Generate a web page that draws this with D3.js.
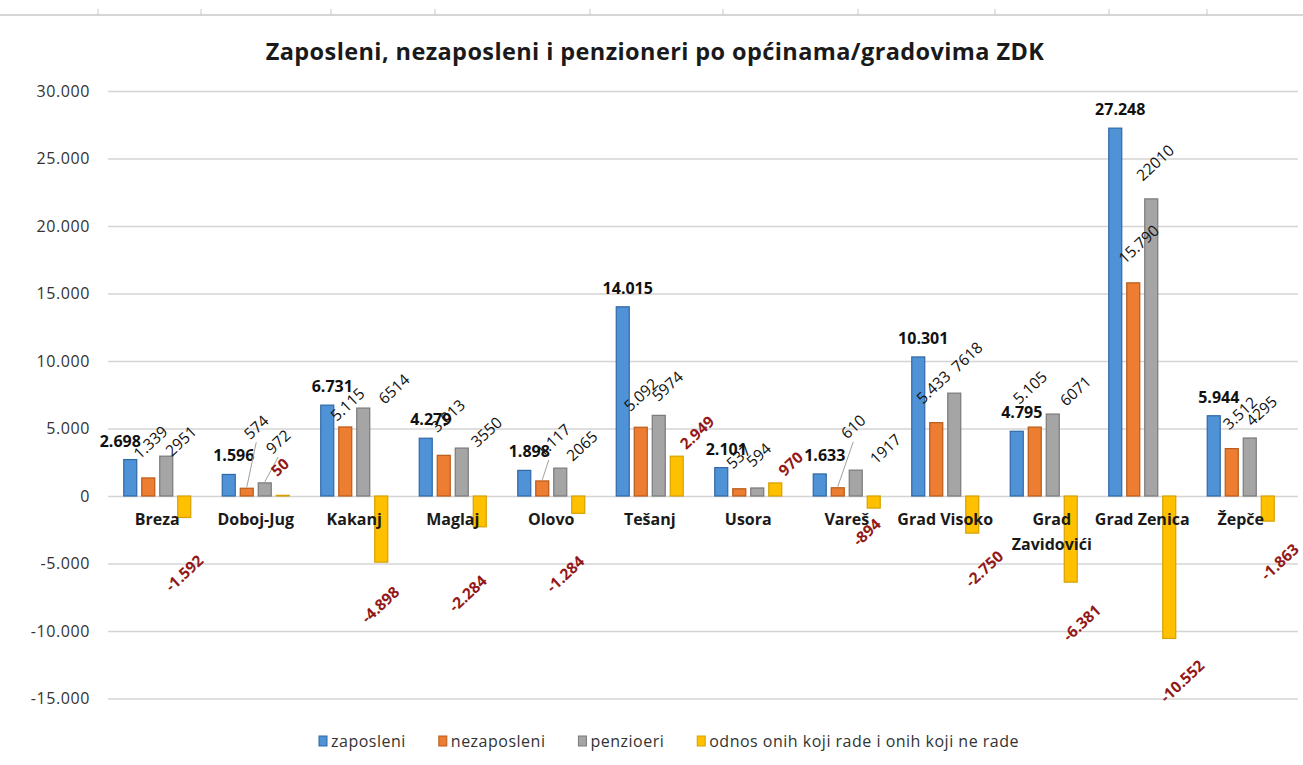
<!DOCTYPE html>
<html>
<head>
<meta charset="utf-8">
<script src="https://cdn.jsdelivr.net/npm/d3@7"></script>
<style>
  body { margin: 0; background: #fff; }
  svg { display: block; }
</style>
</head>
<body>
<div id="chart"></div>
<script>
// Chart data
const categories = ["Breza", "Doboj-Jug", "Kakanj", "Maglaj", "Olovo", "Tešanj",
                    "Usora", "Vareš", "Grad Visoko", "Grad Zavidovići", "Grad Zenica", "Žepče"];
const zaposleni   = [2698, 1596, 6731, 4279, 1898, 14015, 2101, 1633, 10301, 4795, 27248, 5944];
const nezaposleni = [1339, 574, 5115, 3013, 1117, 5092, 537, 610, 5433, 5105, 15790, 3512];
const penzioneri  = [2951, 972, 6514, 3550, 2065, 5974, 594, 1917, 7618, 6071, 22010, 4295];
const odnos       = [-1592, 50, -4898, -2284, -1284, 2949, 970, -894, -2750, -6381, -10552, -1863];
const seriesNames = ["zaposleni", "nezaposleni", "penzioeri", "odnos onih koji rade i onih koji ne rade"];
const yTicks = [-15000, -10000, -5000, 0, 5000, 10000, 15000, 20000, 25000, 30000];
const title = "Zaposleni, nezaposleni i penzioneri po općinama/gradovima ZDK";

const width = 1303, height = 765;
const margin = { top: 91, right: 5, bottom: 66, left: 108 };
const plotRight = width - margin.right;

const fill   = ["#4f92d6", "#ed7d31", "#a5a5a5", "#ffc000"];
const stroke = ["#2f68a6", "#b85b1c", "#7a7a7a", "#d6a100"];
const redLabel = "#931818";
const font = "'Open Sans', 'Liberation Sans', sans-serif";

// number format with "." as thousands separator and a plain hyphen as minus
const loc = d3.formatLocale({ decimal: ",", thousands: ".", grouping: [3], currency: ["", ""], minus: "-" });
const fmt = loc.format(",d");

const allSeries = [zaposleni, nezaposleni, penzioneri, odnos];

const svg = d3.select("#chart").append("svg")
    .attr("width", width)
    .attr("height", height)
    .style("font-family", font);

// the ruler strip from the document the chart was pasted in
svg.append("line")
    .attr("x1", 0).attr("x2", width).attr("y1", 15).attr("y2", 15)
    .attr("stroke", "#c8c8c8").attr("stroke-width", 1.5);
[98, 201, 331, 435, 590, 723, 858, 995, 1109, 1207].forEach(t => {
    svg.append("line").attr("x1", t).attr("x2", t).attr("y1", 9).attr("y2", 15)
        .attr("stroke", "#c8c8c8");
});

// scales
const x = d3.scaleBand().domain(categories).range([margin.left, 1290]);
const groupW = 67;
const xs = d3.scaleBand().domain(d3.range(4)).range([0, groupW]).paddingInner(5 / 18);
const y = d3.scaleLinear().domain([-15000, 30000]).range([698.5, margin.top]);
const groupLeft = c => x(c) + (x.bandwidth() - groupW) / 2;

// title
svg.append("text")
    .attr("x", 655).attr("y", 60)
    .attr("text-anchor", "middle")
    .style("font-size", "23.5px").style("font-weight", "bold")
    .style("letter-spacing", "0.4px")
    .style("fill", "#1a1a1a")
    .text(title);

// gridlines + y labels
const yAxis = svg.append("g").attr("transform", `translate(${margin.left},0)`)
    .call(d3.axisLeft(y).tickValues(yTicks).tickSize(-(plotRight - margin.left))
        .tickFormat(d => d === 0 ? "0" : fmt(d)).tickPadding(18));
yAxis.select(".domain").remove();
yAxis.selectAll(".tick line").attr("stroke", "#d4d4d4").attr("stroke-width", 1.5);
yAxis.selectAll(".tick text").style("font-size", "16px").style("fill", "#333")
    .style("letter-spacing", "0.6px")
    .style("font-family", font);

// bars
categories.forEach((c, ci) => {
    allSeries.forEach((s, si) => {
        const v = s[ci];
        svg.append("rect")
            .attr("x", groupLeft(c) + xs(si))
            .attr("y", y(Math.max(0, v)))
            .attr("width", xs.bandwidth())
            .attr("height", Math.abs(y(v) - y(0)))
            .attr("fill", fill[si])
            .attr("stroke", stroke[si])
            .attr("stroke-width", 1.2);
    });
});

// category labels (under the zero line)
categories.forEach(c => {
    const words = c === "Grad Zavidovići" ? ["Grad", "Zavidovići"] : [c];
    const cx = x(c) + x.bandwidth() / 2 + (words.length > 1 ? 8 : 0);
    const t = svg.append("text")
        .attr("x", cx)
        .attr("y", y(0) + 29)
        .attr("text-anchor", "middle")
        .style("font-size", "16px").style("font-weight", "bold").style("fill", "#1a1a1a");
    words.forEach((w, i) => t.append("tspan")
        .attr("x", cx).attr("dy", i ? 25 : 0).text(w));
});

// label nudges: [dx, dy, leader line]
const rotNudge = {
    "1|Breza": [-2, -18], "2|Breza": [12, 1],
    "1|Doboj-Jug": [10, -48, true], "2|Doboj-Jug": [14, -28, true], "3|Doboj-Jug": [1, -18],
    "1|Kakanj": [-2, -5], "2|Kakanj": [28, -3],
    "1|Maglaj": [0, -22], "2|Maglaj": [22, 0],
    "1|Olovo": [7, -23, true], "2|Olovo": [19, -6],
    "1|Tešanj": [-4, -15], "2|Tešanj": [6, -13], "3|Tešanj": [16, -6],
    "1|Usora": [0, -19], "2|Usora": [2, -20], "3|Usora": [16, -6],
    "1|Vareš": [16, -48, true], "2|Vareš": [27, -5],
    "1|Grad Visoko": [-7, -18], "2|Grad Visoko": [10, -20],
    "1|Grad Zavidovići": [-9, -22], "2|Grad Zavidovići": [20, -7],
    "1|Grad Zenica": [-2, -18], "2|Grad Zenica": [-2, -17],
    "1|Žepče": [4, -18], "2|Žepče": [9, -11]
};
// negative odnos labels: [dx from bar centre, gap below bar]
const negNudge = {
    "Breza": [0, 35], "Kakanj": [-1, 22], "Maglaj": [-12, 46], "Olovo": [-13, 40],
    "Vareš": [-7, 8], "Grad Visoko": [12, 15], "Grad Zavidovići": [11, 20],
    "Grad Zenica": [13, 19], "Žepče": [12, 20]
};
const angle = -43;

categories.forEach((c, ci) => {
    // zaposleni: bold, horizontal
    const bx = groupLeft(c) + xs(0);
    svg.append("text")
        .attr("x", bx + xs.bandwidth() / 2 + (c === "Breza" ? -10 : 5))
        .attr("y", y(zaposleni[ci]) - 13)
        .attr("text-anchor", "middle")
        .style("font-size", "16px").style("font-weight", "bold").style("fill", "#111")
        .text(fmt(zaposleni[ci]));

    // nezaposleni, penzioneri, positive odnos: rotated
    [1, 2, 3].forEach(si => {
        const v = allSeries[si][ci];
        if (v < 0) return;
        const n = rotNudge[si + "|" + c] || [0, -15];
        const left = groupLeft(c) + xs(si);
        const px = left + n[0], py = y(v) + n[1];
        if (n[2]) {
            svg.append("line")
                .attr("x1", left + xs.bandwidth() / 2).attr("y1", y(v) - 1)
                .attr("x2", px + 6).attr("y2", py + 2)
                .attr("stroke", "#a0a0a0").attr("stroke-width", 1);
        }
        svg.append("text")
            .attr("transform", `translate(${px},${py}) rotate(${angle})`)
            .style("font-size", "15.5px")
            .style("font-weight", si === 3 ? "bold" : "normal")
            .style("fill", si === 3 ? redLabel : "#111")
            .text(si === 2 ? String(v) : fmt(v));
    });

    // negative odnos labels under the bar
    const v = odnos[ci];
    if (v < 0) {
        const n = negNudge[c] || [10, 20];
        const cx = groupLeft(c) + xs(3) + xs.bandwidth() / 2 + n[0];
        const t = svg.append("text")
            .attr("text-anchor", "middle")
            .attr("dy", "0.35em")
            .style("font-size", "15.5px").style("font-weight", "bold").style("fill", redLabel)
            .text(fmt(v));
        const len = t.node().getComputedTextLength();
        const a = Math.abs(angle) * Math.PI / 180;
        const half = (len * Math.sin(a) + 15 * Math.cos(a)) / 2;
        t.attr("transform", `translate(${cx},${y(v) + n[1] + half}) rotate(${angle})`);
    }
});

// legend
const legend = svg.append("g").style("font-size", "16px").style("letter-spacing", "0.5px");
let lx = 0;
seriesNames.forEach((name, i) => {
    const g = legend.append("g").attr("transform", `translate(${lx},0)`);
    g.append("rect").attr("x", 0).attr("y", -5).attr("width", 8).attr("height", 10)
        .attr("fill", fill[i]).attr("stroke", stroke[i]).attr("stroke-width", 1);
    const t = g.append("text").attr("x", 12).attr("dy", "0.35em").style("fill", "#333").text(name);
    lx += 12 + t.node().getComputedTextLength() + 33;
});
const legendW = lx - 33;
legend.attr("transform", `translate(${669 - legendW / 2},741)`);
</script>
</body>
</html>
